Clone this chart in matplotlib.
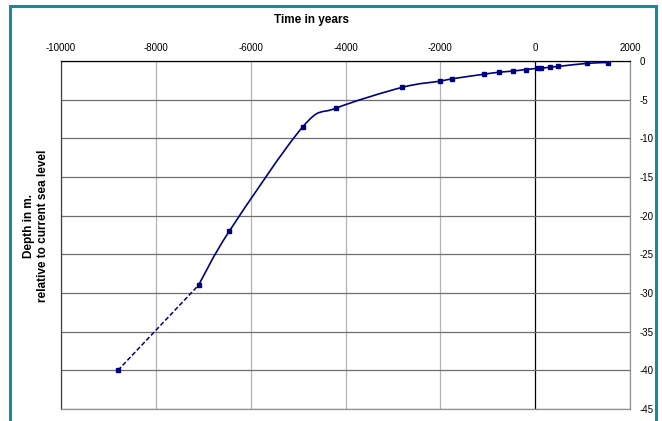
import matplotlib.pyplot as plt
from matplotlib.path import Path
from matplotlib.patches import PathPatch, Rectangle

# years (negative = BC) and depth relative to current sea level (m)
years = [-8800, -7100, -6450, -4900, -4200, -2800, -2000, -1750, -1070, -760,
         -460, -200, 60, 120, 310, 490, 1100, 1540]
depth = [-40, -29, -22, -8.5, -6.1, -3.4, -2.6, -2.3, -1.7, -1.45,
         -1.3, -1.1, -0.95, -0.95, -0.8, -0.7, -0.3, -0.2]

x_ticks = [-10000, -8000, -6000, -4000, -2000, 0, 2000]
y_ticks = [0, -5, -10, -15, -20, -25, -30, -35, -40, -45]

navy = "#000080"
plt.rcParams['font.family'] = ['Liberation Sans', 'DejaVu Sans']
plt.rcParams['axes.unicode_minus'] = False


def smooth_path(xs, ys, t=1/6):
    # catmull-rom style bezier through the points, like excel's smoothed line
    pts = list(zip(xs, ys))
    verts = [pts[0]]
    codes = [Path.MOVETO]
    n = len(pts)
    for i in range(n - 1):
        p0 = pts[i - 1] if i > 0 else pts[i]
        p1 = pts[i]
        p2 = pts[i + 1]
        p3 = pts[i + 2] if i + 2 < n else pts[i + 1]
        c1 = (p1[0] + (p2[0] - p0[0]) * t, p1[1] + (p2[1] - p0[1]) * t)
        c2 = (p2[0] - (p3[0] - p1[0]) * t, p2[1] - (p3[1] - p1[1]) * t)
        verts += [c1, c2, p2]
        codes += [Path.CURVE4] * 3
    return Path(verts, codes)


fig = plt.figure(figsize=(6.62, 4.21), dpi=100)
fig.patch.set_facecolor("white")
fig.patches.append(Rectangle((10 / 662, -0.05), 646 / 662, 1 - 6 / 421 + 0.05,
                             transform=fig.transFigure, fill=False,
                             edgecolor="#1a8a9a", linewidth=2.2))

ax = fig.add_axes([61 / 662, 1 - 409 / 421, 569 / 662, 348 / 421])
ax.set_xlim(-10000, 2000)
ax.set_ylim(-45, 0)

for xv in x_ticks:
    ax.axvline(xv, color="black" if xv == 0 else "#b4b4b4", lw=0.9, zorder=1)
for yv in y_ticks:
    ax.axhline(yv, color="#6e6e6e", lw=0.9, zorder=1)

# dashed straight part for the oldest point
ax.plot(years[:2], depth[:2], color=navy, lw=1.1, ls=(0, (3, 1.5)), zorder=3)
ax.add_patch(PathPatch(smooth_path(years[1:], depth[1:]), fill=False,
                       edgecolor=navy, lw=1.2, zorder=3))
ax.plot(years, depth, ls="none", marker="s", ms=2.6, color=navy, zorder=4)

ax.set_xticks(x_ticks)
ax.set_yticks(y_ticks)
ax.xaxis.tick_top()
ax.yaxis.tick_right()
ax.tick_params(length=0, labelsize=7, pad=6)
ax.tick_params(axis="y", pad=7)
for lab in ax.get_yticklabels():
    lab.set_horizontalalignment("left")

ax.spines["top"].set_color("black")
ax.spines["left"].set_color("#404040")
ax.spines["right"].set_color("#909090")
ax.spines["bottom"].set_color("#909090")
for s in ax.spines.values():
    s.set_linewidth(0.9)

fig.text(312 / 662, 1 - 20 / 421, "Time in years", ha="center", va="center",
         fontsize=8.5, fontweight="bold")
fig.text(36 / 662, 1 - 226 / 421, "Depth in m.\nrelative to current sea level",
         ha="center", va="center", rotation=90, fontsize=8.5, fontweight="bold",
         linespacing=1.3)

fig.savefig("out.png", dpi=100)
